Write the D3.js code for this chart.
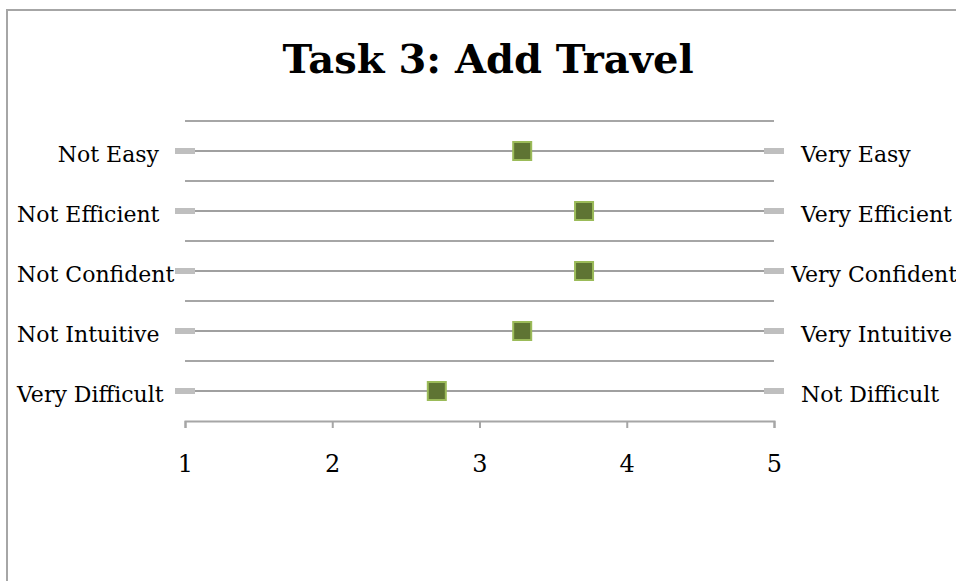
<!DOCTYPE html>
<html>
<head>
<meta charset="utf-8">
<script src="https://cdn.jsdelivr.net/npm/d3@7/dist/d3.min.js"></script>
<style>
  html, body { margin: 0; padding: 0; background: #ffffff; }
  svg { display: block; }
  text { font-family: "DejaVu Serif", serif; fill: #000; }
</style>
</head>
<body>
<svg id="chart" width="956" height="581"></svg>
<script>
// Semantic-differential pairs: low-end label, high-end label, mean rating
const leftLabels  = ["Not Easy", "Not Efficient", "Not Confident", "Not Intuitive", "Very Difficult"];
const rightLabels = ["Very Easy", "Very Efficient", "Very Confident", "Very Intuitive", "Not Difficult"];
const meanScores  = [3.29, 3.71, 3.71, 3.29, 2.71];
const scaleEnds   = [1, 5];
const tickValues  = [1, 2, 3, 4, 5];
const chartTitle  = "Task 3: Add Travel";

const svg = d3.select("#chart");

// chart area frame (extends past the window on the right and bottom)
const frame = { left: 7, top: 10, right: 966, bottom: 600 };
svg.append("rect")
  .attr("x", frame.left).attr("y", frame.top)
  .attr("width", frame.right - frame.left).attr("height", frame.bottom - frame.top)
  .attr("fill", "#fff").attr("stroke", "#a6a6a6").attr("stroke-width", 2);

const plot = { left: 185, right: 774, top: 121, bottom: 421 };

const x = d3.scaleLinear().domain(d3.extent(tickValues)).range([plot.left, plot.right]);
const y = d3.scaleBand().domain(d3.range(leftLabels.length)).range([plot.top, plot.bottom]);
const rowY = i => y(i) + y.bandwidth() / 2;

// title
svg.append("text")
  .attr("x", 488)
  .attr("y", 73)
  .attr("text-anchor", "middle")
  .style("font-size", "40px")
  .style("font-weight", "bold")
  .text(chartTitle);

// horizontal gridlines at row boundaries
svg.append("g").selectAll("line")
  .data(d3.range(leftLabels.length))
  .join("line")
  .attr("x1", plot.left).attr("x2", plot.right)
  .attr("y1", i => y(i)).attr("y2", i => y(i))
  .attr("stroke", "#a6a6a6").attr("stroke-width", 2);

// x axis
const axis = svg.append("g")
  .attr("transform", `translate(0,${plot.bottom})`)
  .call(d3.axisBottom(x).tickValues(tickValues).tickFormat(d3.format("d"))
    .tickSize(7).tickSizeOuter(7).tickPadding(27));
axis.select(".domain").attr("stroke", "#a6a6a6").attr("stroke-width", 2);
axis.selectAll(".tick line").attr("stroke", "#a6a6a6").attr("stroke-width", 2);
axis.selectAll(".tick text")
  .style("font-family", "DejaVu Serif, serif")
  .style("font-size", "24px").attr("fill", "#000");

// rows
const rows = svg.append("g").selectAll("g")
  .data(meanScores.map((v, i) => ({ v, i, left: leftLabels[i], right: rightLabels[i] })))
  .join("g")
  .attr("transform", d => `translate(0,${rowY(d.i)})`);

// scale line between the two anchors
rows.append("line")
  .attr("x1", x(scaleEnds[0])).attr("x2", x(scaleEnds[1]))
  .attr("stroke", "#a0a0a0").attr("stroke-width", 2);

// anchor dashes at each end of the scale
rows.selectAll("rect.anchor")
  .data(() => scaleEnds)
  .join("rect")
  .attr("class", "anchor")
  .attr("x", d => x(d) - 10).attr("y", -3)
  .attr("width", 20).attr("height", 6)
  .attr("fill", "#bfbfbf");

// mean markers
rows.append("rect")
  .attr("x", d => x(d.v) - 9).attr("y", -9)
  .attr("width", 18).attr("height", 18)
  .attr("fill", "#5e7433")
  .attr("stroke", "#9bbb59").attr("stroke-width", 2);

// end labels, kept inside the chart area
const labelGap = 16;
const innerLeft = 17, innerRight = 957;

rows.append("text")
  .style("font-size", "22px")
  .attr("dy", "0.5em")
  .text(d => d.left)
  .each(function() {
    const w = this.getComputedTextLength();
    const end = Math.max(x(scaleEnds[0]) - 10 - labelGap, innerLeft + w);
    d3.select(this).attr("x", end - w);
  });

rows.append("text")
  .style("font-size", "22px")
  .attr("dy", "0.5em")
  .text(d => d.right)
  .each(function() {
    const w = this.getComputedTextLength();
    const start = Math.min(x(scaleEnds[1]) + 10 + labelGap + 1, innerRight - w);
    d3.select(this).attr("x", start);
  });
</script>
</body>
</html>
